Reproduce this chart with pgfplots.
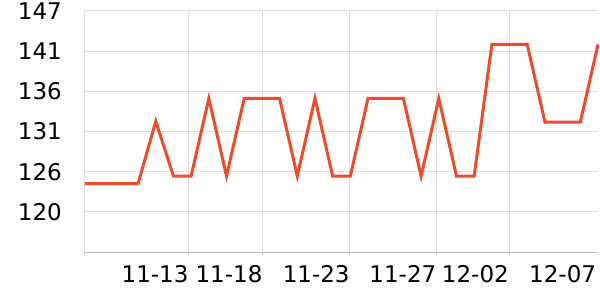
\documentclass[border=0pt]{standalone}
\usepackage{fontspec}
\setmainfont{DejaVu Sans}
\usepackage{pgfplots}
\pgfplotsset{compat=1.18}
\definecolor{linec}{HTML}{EE4B2B}
\definecolor{gridc}{HTML}{DDDDDD}
\definecolor{axisc}{HTML}{BBBBBB}
\begin{document}
\begin{tikzpicture}
\useasboundingbox (-85bp,-48bp) rectangle (515bp,252bp);
\begin{axis}[
  at={(0,0)}, anchor=south west,
  scale only axis, width=513bp, height=241bp,
  xmin=0, xmax=29,
  ymin=115.02, ymax=146.7,
  axis lines=left,
  axis line style={axisc, line width=1bp, -},
  x axis line style={-}, y axis line style={draw=none},
  font=\fontsize{23bp}{27bp}\selectfont,
  xtick={0,5.86,10.04,14.97,19.87,23.97},
  xticklabels={,11-13,11-18,11-23,11-27,12-02},
  extra x ticks={28.9},
  extra x tick labels={12-07},
  extra x tick style={grid=none, xtick style={draw=none}},
  ytick={120.3,125.58,130.86,136.14,141.42,146.7},
  yticklabels={120,126,131,136,141,147},
  xmajorgrids, ymajorgrids,
  major grid style={gridc, line width=1bp},
  xtick style={axisc, line width=1bp},
  ytick style={draw=none},
  major tick length=3bp,
  tick align=outside,
  xticklabel style={anchor=north east, inner sep=0pt, yshift=-10bp, text=black},
  yticklabel style={anchor=east, inner sep=0pt, xshift=-20bp, text=black},
  clip=false,
]
\addplot[linec, line width=3bp, line join=miter, mark=none] coordinates {
(0,124.0) (1,124.0) (2,124.0) (3,124.0) (4,132.2) (5,125.0) (6,125.0)
(7,135.2) (8,125.0) (9,135.2) (10,135.2) (11,135.2) (12,125.0) (13,135.2)
(14,125.0) (15,125.0) (16,135.2) (17,135.2) (18,135.2) (19,125.0) (20,135.2)
(21,125.0) (22,125.0) (23,142.3) (24,142.3) (25,142.3) (26,132.1) (27,132.1)
(28,132.1) (29,142.3)
};
\end{axis}
\end{tikzpicture}
\end{document}
